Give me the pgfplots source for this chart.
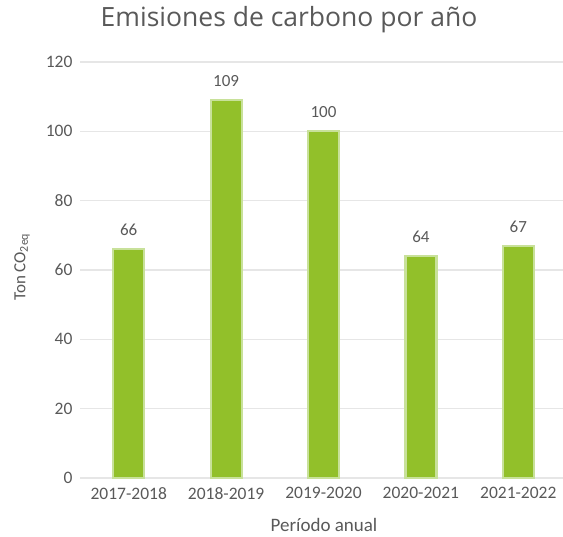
\documentclass[border=0pt]{standalone}
\usepackage{fontspec}
\setmainfont{Carlito}
\newfontfamily\titlefont{Open Sans}
\usepackage{pgfplots}
\pgfplotsset{compat=1.18}

\definecolor{barfill}{HTML}{92C02A}
\definecolor{barline}{HTML}{C8E19A}
\definecolor{gridgray}{HTML}{E6E6E6}
\definecolor{txtgray}{HTML}{595959}

\begin{document}
\begin{tikzpicture}[x=1pt,y=1pt]
  \useasboundingbox (0,0) rectangle (563,537);
  \begin{axis}[
    at={(80pt,59pt)}, anchor=south west,
    scale only axis,
    width=487pt, height=416pt,
    xmin=-0.5, xmax=4.5,
    ymin=0, ymax=120,
    ytick={0,20,...,120},
    xtick=data,
    xticklabels={2017-2018,2018-2019,2019-2020,2020-2021,2021-2022},
    axis line style={draw=none},
    major tick length=0pt,
    ymajorgrids=true,
    grid style={gridgray, line width=1.6pt},
    tick label style={font=\fontsize{17.5}{20}\selectfont, text=txtgray},
    yticklabel style={xshift=-4pt},
    xticklabel style={yshift=-6pt},
    /pgf/number format/assume math mode=true,
    ybar, bar width=31pt,
    nodes near coords,
    every node near coord/.append style={font=\fontsize{17}{20}\selectfont, text=txtgray, yshift=9pt},
    clip=false,
  ]
    \addplot[fill=barfill, draw=barline, line width=2.2pt] coordinates {
      (0,66) (1,109) (2,100) (3,64) (4,67)
    };
  \end{axis}
  \node[font=\titlefont\fontsize{26.5}{30}\selectfont, text=txtgray] at (289,517) {Emisiones de carbono por año};
  \node[font=\fontsize{19}{22}\selectfont, text=txtgray] at (324,12) {Período anual};
  \node[font=\fontsize{17}{20}\selectfont, text=txtgray, rotate=90] at (22,270) {Ton CO\textsubscript{2eq}};
\end{tikzpicture}
\end{document}
